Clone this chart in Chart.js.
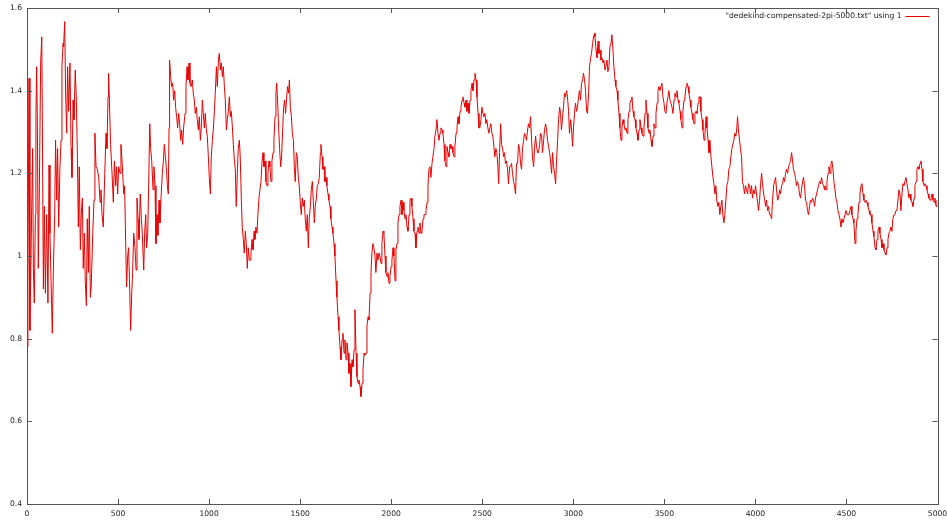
<!DOCTYPE html>
<html>
<head>
<meta charset="utf-8">
<script src="https://cdn.jsdelivr.net/npm/chart.js@4.4.1/dist/chart.umd.min.js"></script>
<style>
  html, body { margin: 0; padding: 0; background: #fff; }
  canvas { display: block; }
</style>
</head>
<body>
<canvas id="plot" width="947" height="524"></canvas>
<script>
// series, one row of x values per row of y values
const seriesLabel = '"dedekind-compensated-2pi-5000.txt" using 1';

const xValues = [
  0,5,11,16,26,31,35,40,46,49, 53,57,62,68,75,81,84,90,95,101,
  108,115,121,126,132,139,145,152,157,163, 168,174,181,187,192,198,201,207,212,218,
  223,229,236,242,247,253,258,265,271,276, 282,287,293,298,304,309,315,320,326,331,
  337,342,348,353,361,368,373,379,386,394, 401,406,412,419,427,434,439,445,448,454,
  459,467,474,480,487,492,498,503,511,516, 524,531,536,542,547,553,558,564,569,575,
  580,586,
  593,599,604,610,615,622,628,633,641,646, 652,657,663,668,674,679,685,692,697,703,
  708,714,719,725,730,736,743,749,754,760, 765,771,776,780,783,789,794,800,805,811,
  816,822,827,833,838,844,849,855,860,868, 873,879,884,890,895,901,908,913,919,924,
  930,935,941,946,952,957,963,968,974,979, 985,990,996,1001,1007,1012,1018,1023,1029,1034,
  1040,1045,1051,1056,1062,1067,1073,1078,1084,1089, 1095,1100,1106,1111,1117,1122,1128,1133,1139,1144,
  1149,1155,1160,1166,1171,1177,1182,1188,1193,1199, 1204,1210,1215,1221,
  1225,1230,1236,1241,1247,1252,1257,1263,1268,1274, 1279,1285,1290,1296,1301,1307,1312,1318,1323,1329,
  1334,1340,1345,1351,1356,1362,1367,1371,1376,1382, 1387,1393,1398,1404,1409,1415,1420,1426,1431,1437,
  1441,1446,1452,1457,1463,1468,1473,1479,1484,1490, 1495,1501,1506,1512,1517,1523,1528,1534,1539,1545,
  1550,1556,1561,1567,1572,1578,1583,1589,1594,1600, 1605,1611,1614,1620,1625,1631,1636,1642,1647,1653,
  1658,1664,1669,1675,1680,1686,1691,1697,1702,1708, 1713,1719,1724,1730,1735,1741,1746,1752,1757,1763,
  1768,1774,1779,1785,1790,1796,1801,1807,1812,1818, 1823,1829,1834,1840,1845,1851,
  1856,1862,1867,1873,1878,1884,1889,1894,1900,1905, 1911,1916,1922,1927,1933,1938,1944,1949,1955,1960,
  1966,1971,1977,1982,1988,1993,1999,2004,2010,2015, 2021,2026,2032,2037,2043,2048,2054,2059,2065,2070,
  2076,2081,2087,2092,2098,2103,2109,2114,2120,2125, 2131,2136,2142,2147,2153,2158,2164,2169,2175,2180,
  2186,2191,2197,2202,2207,2213,2218,2224,2229,2235, 2240,2246,2251,2257,2262,2268,2273,2279,2284,2290,
  2295,2301,2306,2312,2317,2323,2328,2334,2339,2345, 2350,2356,2361,2367,2372,2378,2383,2389,2394,2400,
  2405,2411,2416,2422,2427,2433,2438,2444,2449,2455, 2460,2466,2471,2477,2482,
  2487,2493,2498,2504,2509,2515,2520,2525,2531,2536, 2542,2547,2553,2558,2564,2569,2575,2580,2586,2590,
  2595,2601,2606,2612,2617,2622,2628,2633,2639,2644, 2650,2655,2661,2666,2672,2677,2683,2688,2694,2699,
  2705,2710,2716,2721,2727,2732,2738,2743,2749,2754, 2760,2765,2771,2776,2782,2787,2793,2798,2804,2809,
  2815,2820,2826,2831,2837,2842,2848,2853,2859,2864, 2870,2875,2881,2886,2892,2897,2903,2908,2914,2919,
  2925,2930,2935,2941,2946,2952,2957,2963,2968,2974, 2979,2985,2990,2996,3001,3007,3012,3018,3023,3029,
  3034,3040,3045,3051,3056,3062,3067,3073,3078,3084, 3089,3095,3100,3106,3111,3117,
  3119,3125,3130,3136,3141,3147,3152,3157,3163,3168, 3174,3179,3185,3190,3196,3201,3207,3212,3218,3223,
  3229,3234,3240,3245,3251,3256,3262,3267,3273,3278, 3284,3289,3295,3300,3306,3311,3317,3322,3328,3333,
  3339,3344,3350,3355,3361,3366,3372,3377,3383,3388, 3394,3399,3405,3410,3416,3421,3427,3432,3438,3443,
  3449,3454,3460,3465,3470,3476,3481,3487,3492,3498, 3503,3509,3514,3520,3525,3531,3536,3542,3547,3553,
  3558,3564,3569,3575,3580,3586,3591,3597,3602,3608, 3613,3619,3624,3630,3635,3641,3646,3652,3657,3663,
  3668,3674,3679,3685,3690,3696,3701,3707,3712,3718, 3723,3729,3734,3740,3745,
  3750,3756,3761,3767,3772,3778,3783,3788,3794,3799, 3805,3810,3816,3821,3827,3832,3838,3843,3849,3854,
  3860,3865,3871,3876,3882,3887,3893,3898,3902,3907, 3913,3918,3924,3929,3935,3940,3946,3951,3957,3962,
  3968,3973,3979,3984,3990,3995,4001,4006,4012,4017, 4023,4028,4034,4039,4045,4050,4056,4061,4067,4072,
  4078,4083,4089,4094,4100,4105,4111,4116,4122,4127, 4133,4138,4144,4149,4155,4160,4166,4171,4177,4182,
  4188,4193,4199,4204,4209,4215,4220,4226,4231,4237, 4242,4248,4253,4259,4264,4270,4275,4281,4286,4292,
  4297,4303,4308,4314,4319,4325,4330,4336,4341,4347, 4352,4358,4363,4369,4374,4380,
  4382,4388,4393,4399,4404,4410,4415,4420,4426,4431, 4437,4442,4448,4453,4459,4464,4470,4475,4481,4486,
  4492,4497,4503,4508,4514,4519,4525,4530,4536,4541, 4547,4552,4558,4563,4569,4574,4580,4585,4591,4596,
  4602,4607,4613,4618,4624,4629,4635,4640,4646,4651, 4657,4662,4668,4673,4679,4684,4690,4695,4701,4706,
  4712,4717,4723,4728,4733,4739,4744,4750,4755,4761, 4766,4772,4777,4783,4788,4794,4799,4805,4810,4816,
  4821,4827,4832,4838,4843,4849,4854,4860,4865,4871, 4876,4882,4887,4893,4898,4904,4909,4915,4920,4926,
  4931,4937,4942,4948,4953,4959,4964,4970,4975,4981, 4986,4992,4997,4999
];

const yValues = [
  0.78,0.93,1.43,0.82,1.12,1.26,0.97,0.886,1.10,1.345, 1.458,1.32,0.97,1.17,1.467,1.53,1.35,0.92,1.12,0.91,
  1.10,0.886,1.22,1.055,0.94,0.813,0.97,1.10,1.28,1.135, 1.26,1.07,1.216,1.28,1.458,1.514,1.506,1.567,1.394,1.297,
  1.458,1.35,1.467,1.26,1.19,1.377,1.33,1.45,1.377,1.26, 1.07,1.216,1.015,1.10,1.14,0.97,1.055,0.94,0.88,1.09,
  0.96,1.12,0.90,0.93,1.055,1.135,1.297,1.216,1.21,1.19, 1.13,1.16,1.10,1.07,1.20,1.297,1.26,1.385,1.442,1.35,
  1.27,1.20,1.13,1.23,1.17,1.216,1.15,1.216,1.20,1.27, 1.216,1.15,1.17,1.03,0.925,1.0,1.02,0.92,0.82,0.91,
  0.96,1.055,
  1.02,0.966,1.14,1.09,1.04,1.15,1.09,1.055,0.966,1.055, 1.10,1.02,1.055,1.17,1.32,1.26,1.23,1.16,1.216,1.17,
  1.03,1.10,1.05,1.135,1.08,1.14,1.20,1.23,1.27,1.24, 1.216,1.17,1.15,1.31,1.474,1.434,1.41,1.418,1.377,1.40,
  1.36,1.337,1.31,1.345,1.32,1.28,1.305,1.27,1.31,1.345, 1.41,1.458,1.426,1.467,1.418,1.41,1.426,1.394,1.377,1.345,
  1.36,1.33,1.305,1.337,1.28,1.31,1.377,1.345,1.31,1.345, 1.305,1.29,1.24,1.19,1.15,1.24,1.28,1.305,1.35,1.394,
  1.458,1.41,1.474,1.49,1.45,1.467,1.434,1.458,1.41,1.377, 1.305,1.33,1.35,1.385,1.337,1.35,1.31,1.27,1.23,1.21,
  1.12,1.20,1.26,1.28,1.24,1.135,1.07,1.04,1.007,1.06, 1.03,0.97,1.02,0.99,
  0.99,1.007,1.04,1.015,1.06,1.04,1.07,1.055,1.10,1.14, 1.16,1.18,1.224,1.25,1.216,1.23,1.18,1.17,1.20,1.23,
  1.216,1.18,1.23,1.25,1.28,1.337,1.394,1.418,1.377,1.31, 1.26,1.216,1.24,1.305,1.36,1.377,1.345,1.385,1.41,1.394,
  1.426,1.36,1.337,1.297,1.28,1.216,1.18,1.25,1.24,1.19, 1.17,1.13,1.10,1.14,1.12,1.135,1.09,1.06,1.10,1.02,
  1.09,1.12,1.16,1.18,1.135,1.08,1.12,1.14,1.17,1.175, 1.19,1.25,1.27,1.24,1.21,1.216,1.18,1.19,1.17,1.15,
  1.135,1.12,1.09,1.07,1.055,1.03,1.0,0.94,0.90,0.853, 0.82,0.78,0.749,0.797,0.813,0.765,0.797,0.749,0.79,0.765,
  0.716,0.74,0.684,0.749,0.732,0.773,0.87,0.765,0.708,0.692, 0.70,0.684,0.66,0.692,0.724,0.765,
  0.76,0.765,0.83,0.853,0.845,0.91,0.96,1.007,1.03,1.02, 1.0,0.96,1.007,0.99,1.007,1.0,0.982,1.03,1.06,1.055,
  1.0,0.96,0.95,0.96,0.934,0.95,0.974,0.99,1.02,1.0, 0.94,1.015,1.03,1.08,1.10,1.12,1.135,1.10,1.13,1.11,
  1.09,1.10,1.07,1.06,1.10,1.135,1.14,1.12,1.09,1.06, 1.055,1.02,1.06,1.07,1.055,1.08,1.055,1.06,1.09,1.10,
  1.10,1.11,1.13,1.17,1.21,1.216,1.19,1.224,1.24,1.26, 1.29,1.305,1.33,1.297,1.28,1.297,1.31,1.305,1.297,1.27,
  1.23,1.216,1.265,1.25,1.24,1.27,1.26,1.265,1.25,1.24, 1.265,1.297,1.31,1.337,1.32,1.35,1.36,1.377,1.385,1.37,
  1.36,1.377,1.35,1.37,1.345,1.377,1.40,1.418,1.40,1.426, 1.442,1.426,1.385,1.345,1.31,
  1.31,1.33,1.36,1.345,1.337,1.345,1.32,1.33,1.31,1.297, 1.31,1.32,1.297,1.29,1.265,1.24,1.26,1.25,1.216,1.175,
  1.25,1.32,1.27,1.26,1.24,1.25,1.224,1.23,1.21,1.175, 1.216,1.216,1.224,1.20,1.18,1.17,1.15,1.224,1.224,1.27,
  1.26,1.224,1.21,1.26,1.28,1.297,1.29,1.28,1.305,1.32, 1.31,1.337,1.28,1.24,1.216,1.26,1.29,1.265,1.25,1.25,
  1.27,1.297,1.29,1.25,1.28,1.305,1.32,1.305,1.28,1.265, 1.25,1.23,1.20,1.25,1.216,1.20,1.175,1.23,1.28,1.33,
  1.36,1.345,1.305,1.337,1.36,1.394,1.385,1.40,1.385,1.35, 1.297,1.33,1.31,1.265,1.31,1.345,1.37,1.35,1.36,1.385,
  1.40,1.377,1.418,1.426,1.442,1.426,1.40,1.35,1.345,1.394, 1.458,1.48,1.49,1.514,1.53,1.539,
  1.53,1.498,1.48,1.52,1.49,1.498,1.474,1.48,1.467,1.474, 1.45,1.458,1.474,1.446,1.458,1.506,1.514,1.535,1.498,1.458,
  1.426,1.41,1.40,1.377,1.345,1.31,1.28,1.31,1.33,1.32, 1.305,1.31,1.297,1.33,1.35,1.37,1.377,1.385,1.35,1.337,
  1.33,1.31,1.297,1.28,1.305,1.33,1.31,1.297,1.29,1.31, 1.345,1.377,1.345,1.31,1.297,1.305,1.28,1.265,1.29,1.32,
  1.31,1.345,1.37,1.40,1.41,1.40,1.41,1.418,1.385,1.37, 1.35,1.345,1.37,1.385,1.40,1.377,1.37,1.36,1.345,1.377,
  1.394,1.385,1.40,1.377,1.37,1.35,1.33,1.31,1.35,1.377, 1.385,1.41,1.418,1.41,1.394,1.377,1.36,1.345,1.33,1.32,
  1.345,1.35,1.345,1.37,1.385,1.385,1.35,1.33,1.305,1.28, 1.297,1.337,1.31,1.28,1.25,
  1.28,1.24,1.216,1.19,1.175,1.15,1.17,1.135,1.12,1.13, 1.10,1.12,1.135,1.10,1.08,1.10,1.135,1.17,1.18,1.21,
  1.216,1.24,1.26,1.27,1.28,1.297,1.29,1.31,1.337,1.305, 1.28,1.26,1.24,1.18,1.17,1.15,1.17,1.16,1.15,1.175,
  1.17,1.15,1.17,1.14,1.16,1.15,1.17,1.15,1.13,1.11, 1.135,1.17,1.20,1.175,1.15,1.14,1.12,1.135,1.11,1.12,
  1.10,1.10,1.09,1.135,1.17,1.18,1.19,1.16,1.135,1.14, 1.16,1.15,1.17,1.175,1.19,1.18,1.20,1.21,1.20,1.216,
  1.224,1.23,1.25,1.23,1.21,1.20,1.19,1.17,1.18,1.17, 1.15,1.14,1.16,1.18,1.19,1.17,1.135,1.13,1.11,1.10,
  1.12,1.135,1.13,1.14,1.135,1.12,1.14,1.15,1.16,1.17, 1.18,1.175,1.19,1.175,1.17,1.16,
  1.17,1.16,1.18,1.20,1.216,1.20,1.224,1.23,1.21,1.18, 1.16,1.14,1.13,1.11,1.10,1.09,1.07,1.09,1.08,1.09,
  1.10,1.11,1.10,1.10,1.10,1.11,1.12,1.10,1.09,1.08, 1.03,1.06,1.09,1.10,1.13,1.15,1.17,1.175,1.15,1.135,
  1.13,1.135,1.13,1.12,1.11,1.10,1.10,1.08,1.06,1.047, 1.02,1.015,1.04,1.06,1.07,1.055,1.04,1.02,1.03,1.015,
  1.007,1.003,1.02,1.04,1.055,1.06,1.07,1.06,1.09,1.10, 1.10,1.11,1.11,1.135,1.16,1.15,1.11,1.15,1.175,1.17,
  1.18,1.19,1.175,1.16,1.14,1.15,1.135,1.13,1.12,1.14, 1.17,1.18,1.21,1.216,1.21,1.224,1.23,1.21,1.18,1.17,
  1.175,1.17,1.16,1.15,1.14,1.135,1.14,1.15,1.135,1.13, 1.14,1.12,1.135,1.135
];

const xTicks = [0, 500, 1000, 1500, 2000, 2500, 3000, 3500, 4000, 4500, 5000];
const yTicks = [0.4, 0.6, 0.8, 1, 1.2, 1.4, 1.6];

const lineColor = '#e60000';
const textColor = '#222';
const frameColor = '#555';
const fontFamily = '"DejaVu Sans", sans-serif';
const fontSize = 7.6;

// gnuplot style frame: full box, inward ticks on all four sides, key in the top right corner
const gnuplotFrame = {
  id: 'gnuplotFrame',
  afterDraw(chart) {
    const { ctx, chartArea: a, scales: { x, y } } = chart;
    ctx.save();
    ctx.strokeStyle = frameColor;
    ctx.lineWidth = 1;
    ctx.strokeRect(Math.round(a.left) + 0.5, Math.round(a.top) + 0.5,
                   Math.round(a.right - a.left), Math.round(a.bottom - a.top));
    ctx.beginPath();
    x.ticks.forEach(t => {
      const px = Math.round(x.getPixelForValue(t.value)) + 0.5;
      ctx.moveTo(px, a.bottom); ctx.lineTo(px, a.bottom - 5);
      ctx.moveTo(px, a.top); ctx.lineTo(px, a.top + 5);
    });
    y.ticks.forEach(t => {
      const py = Math.round(y.getPixelForValue(t.value)) + 0.5;
      ctx.moveTo(a.left, py); ctx.lineTo(a.left + 5, py);
      ctx.moveTo(a.right, py); ctx.lineTo(a.right - 5, py);
    });
    ctx.stroke();

    ctx.font = fontSize + 'px ' + fontFamily;
    ctx.fillStyle = textColor;
    ctx.textAlign = 'right';
    ctx.textBaseline = 'middle';
    ctx.fillText(seriesLabel, a.right - 36, a.top + 8);
    ctx.strokeStyle = lineColor;
    ctx.beginPath();
    ctx.moveTo(a.right - 32, a.top + 8.5);
    ctx.lineTo(a.right - 8, a.top + 8.5);
    ctx.stroke();
    ctx.restore();
  }
};

new Chart(document.getElementById('plot'), {
  type: 'line',
  data: {
    datasets: [{
      label: seriesLabel,
      data: xValues.map((x, i) => ({ x: x, y: yValues[i] })),
      borderColor: lineColor,
      borderWidth: 1,
      pointRadius: 0,
      tension: 0,
      fill: false
    }]
  },
  options: {
    responsive: false,
    animation: false,
    layout: { padding: { top: 8, right: 9.5, left: 0, bottom: 0 } },
    plugins: {
      legend: { display: false },
      tooltip: { enabled: false }
    },
    scales: {
      x: {
        type: 'linear',
        min: 0,
        max: 5000,
        afterBuildTicks: s => { s.ticks = xTicks.map(v => ({ value: v })); },
        afterFit: s => { s.height = 20; s.paddingLeft = 0; s.paddingRight = 0; },
        grid: { display: false, drawTicks: false },
        border: { display: false },
        ticks: {
          autoSkip: false,
          maxRotation: 0,
          padding: 5,
          color: textColor,
          font: { family: fontFamily, size: fontSize },
          callback: v => String(v)
        }
      },
      y: {
        type: 'linear',
        min: 0.4,
        max: 1.6,
        afterBuildTicks: s => { s.ticks = yTicks.map(v => ({ value: v })); },
        afterFit: s => { s.width = 27; s.paddingTop = 0; s.paddingBottom = 0; },
        grid: { display: false, drawTicks: false },
        border: { display: false },
        ticks: {
          padding: 5,
          color: textColor,
          font: { family: fontFamily, size: fontSize },
          callback: v => String(v)
        }
      }
    }
  },
  plugins: [gnuplotFrame]
});
</script>
</body>
</html>
